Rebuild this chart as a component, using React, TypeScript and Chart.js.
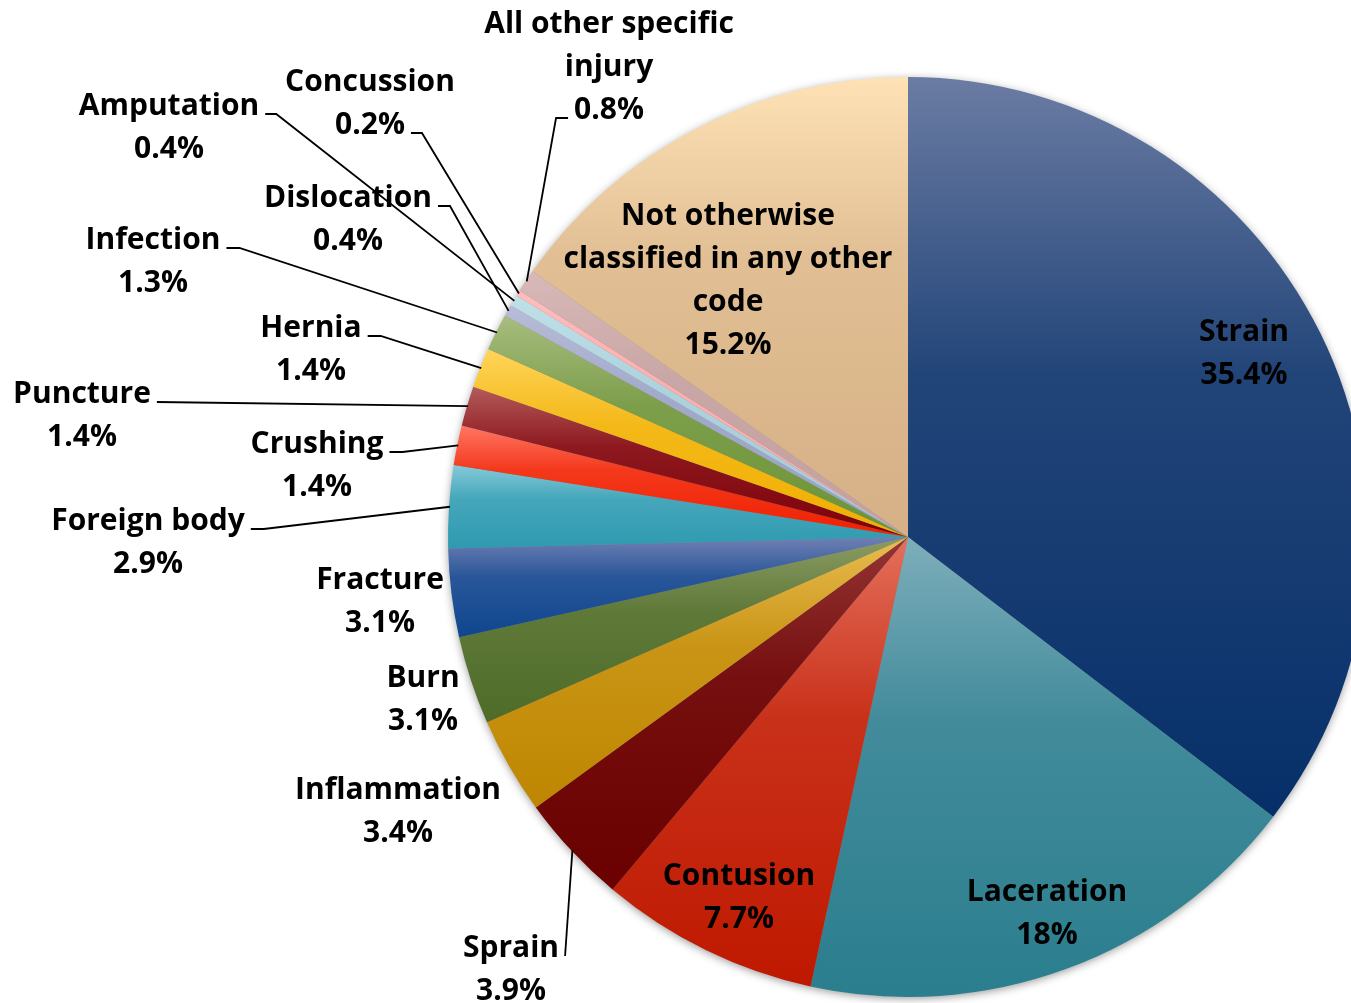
import React, { useEffect, useRef } from "react";
import { Chart, registerables } from "chart.js";

Chart.register(...registerables);

const categories = [
  "Strain",
  "Laceration",
  "Contusion",
  "Sprain",
  "Inflammation",
  "Burn",
  "Fracture",
  "Foreign body",
  "Crushing",
  "Puncture",
  "Hernia",
  "Infection",
  "Dislocation",
  "Amputation",
  "Concussion",
  "All other specific injury",
  "Not otherwise classified in any other code",
];

const values = [35.4, 18, 7.7, 3.9, 3.4, 3.1, 3.1, 2.9, 1.4, 1.4, 1.4, 1.3, 0.4, 0.4, 0.2, 0.8, 15.2];

// how each category name is wrapped in its data label
const labelLines: string[][] = [
  ["Strain"],
  ["Laceration"],
  ["Contusion"],
  ["Sprain"],
  ["Inflammation"],
  ["Burn"],
  ["Fracture"],
  ["Foreign body"],
  ["Crushing"],
  ["Puncture"],
  ["Hernia"],
  ["Infection"],
  ["Dislocation"],
  ["Amputation"],
  ["Concussion"],
  ["All other specific", "injury"],
  ["Not otherwise", "classified in any other", "code"],
];

const lightColors = [
  "#6b7ca3", "#7eaebb", "#e4705c", "#943434", "#e8bc50", "#8c9c64", "#7080b4", "#84cad8",
  "#ff7664", "#b45a5a", "#ffd45a", "#a8bc80", "#b8bcd8", "#c0e0e8", "#ffbcbc", "#d8b8b8", "#fee2b6",
];
const darkColors = [
  "#062f69", "#2a7e8e", "#bf1800", "#6a0000", "#be8600", "#4e6c28", "#0e468e", "#2e9ab0",
  "#f02000", "#7e0008", "#f0ae00", "#6c9436", "#9aa2c4", "#a4ccd8", "#ffa8a8", "#c4a0a0", "#d6b086",
];

// label anchor: [center x, first-line baseline] in canvas pixels
const labelPos: [number, number][] = [
  [1244, 341],
  [1047, 901],
  [739, 885],
  [511, 957],
  [398, 799],
  [423, 687],
  [380, 589],
  [148, 530],
  [317, 453],
  [82, 403],
  [311, 337],
  [153, 249],
  [348, 207],
  [169, 115],
  [370, 91],
  [609, 33],
  [728, 225],
];

// leader lines: side of text, which line they attach to, length of the horizontal stub
type Leader = { side: "left" | "right"; line: number; stub: number } | null;
const leaders: Leader[] = [
  null,
  null,
  null,
  { side: "right", line: 0, stub: 0 },
  null,
  null,
  null,
  { side: "right", line: 0, stub: 13 },
  { side: "right", line: 0, stub: 13 },
  { side: "right", line: 0, stub: 0 },
  { side: "right", line: 0, stub: 13 },
  { side: "right", line: 0, stub: 13 },
  { side: "right", line: 0, stub: 12 },
  { side: "right", line: 0, stub: 11 },
  { side: "right", line: 1, stub: 11 },
  { side: "left", line: 2, stub: 12 },
  null,
];

const FONT = "bold 30px 'Open Sans', 'Noto Sans', sans-serif";
const LINE_H = 43;

function hexToRgb(h: string) {
  const n = parseInt(h.slice(1), 16);
  return [(n >> 16) & 255, (n >> 8) & 255, n & 255];
}
function mix(a: string, b: string, t: number) {
  const A = hexToRgb(a);
  const B = hexToRgb(b);
  const c = A.map((v, i) => Math.round(v + (B[i] - v) * t));
  return `rgb(${c[0]},${c[1]},${c[2]})`;
}

function arcBoundsY(cx: number, cy: number, r: number, s: number, e: number) {
  const ys = [cy, cy + r * Math.sin(s), cy + r * Math.sin(e)];
  const norm = (a: number) => {
    let x = a % (Math.PI * 2);
    if (x < 0) x += Math.PI * 2;
    return x;
  };
  const contains = (ang: number) => {
    const ss = norm(s);
    const d = norm(ang - ss);
    return d <= e - s;
  };
  if (contains(-Math.PI / 2)) ys.push(cy - r);
  if (contains(Math.PI / 2)) ys.push(cy + r);
  return [Math.min(...ys), Math.max(...ys)];
}

const gradientPlugin = {
  id: "sliceGradients",
  beforeDatasetsDraw(chart: any) {
    const meta = chart.getDatasetMeta(0);
    const ctx = chart.ctx;
    const first = meta.data[0];
    if (!first) return;
    // drop shadow behind the whole pie
    ctx.save();
    ctx.shadowColor = "rgba(0,0,0,0.45)";
    ctx.shadowBlur = 10;
    ctx.shadowOffsetY = 2;
    ctx.fillStyle = "#888";
    ctx.beginPath();
    ctx.arc(first.x, first.y, first.outerRadius - 1, 0, Math.PI * 2);
    ctx.fill();
    ctx.restore();
    meta.data.forEach((arc: any, i: number) => {
      const [y0, y1] = arcBoundsY(arc.x, arc.y, arc.outerRadius, arc.startAngle, arc.endAngle);
      const g = ctx.createLinearGradient(0, y0, 0, y1);
      g.addColorStop(0, lightColors[i]);
      g.addColorStop(0.4, mix(lightColors[i], darkColors[i], 0.72));
      g.addColorStop(1, darkColors[i]);
      arc.options = Object.assign({}, arc.options, { backgroundColor: g });
    });
  },
};

const labelPlugin = {
  id: "sliceLabels",
  afterDatasetsDraw(chart: any) {
    const meta = chart.getDatasetMeta(0);
    const ctx = chart.ctx;
    ctx.save();
    ctx.font = FONT;
    ctx.fillStyle = "#000";
    ctx.textAlign = "center";
    ctx.textBaseline = "alphabetic";
    meta.data.forEach((arc: any, i: number) => {
      const lines = [...labelLines[i], `${values[i]}%`];
      const [lx, ly] = labelPos[i];
      const ld = leaders[i];
      if (ld) {
        const txt = lines[ld.line];
        const w = ctx.measureText(txt).width;
        const by = ly + ld.line * LINE_H - 1;
        const sx = ld.side === "right" ? lx + w / 2 + 6 : lx - w / 2 - 6;
        const ex = ld.side === "right" ? sx + ld.stub : sx - ld.stub;
        const mid = (arc.startAngle + arc.endAngle) / 2;
        const r = arc.outerRadius - 1;
        const px = arc.x + r * Math.cos(mid);
        const py = arc.y + r * Math.sin(mid);
        ctx.beginPath();
        ctx.strokeStyle = "#000";
        ctx.lineWidth = 1.8;
        ctx.moveTo(sx, by);
        ctx.lineTo(ex, by);
        ctx.lineTo(px, py);
        ctx.stroke();
      }
      lines.forEach((t, k) => {
        ctx.fillText(t, lx, ly + k * LINE_H);
      });
    });
    ctx.restore();
  },
};

export default function App() {
  const ref = useRef<HTMLCanvasElement | null>(null);
  useEffect(() => {
    if (!ref.current) return;
    const chart = new Chart(ref.current, {
      type: "pie",
      data: {
        labels: categories,
        datasets: [
          {
            data: values,
            backgroundColor: darkColors,
            borderWidth: 0,
          },
        ],
      },
      options: {
        responsive: false,
        animation: false,
        devicePixelRatio: 1,
        layout: { padding: { left: 448, top: 77, right: 32, bottom: 6 } },
        plugins: {
          legend: { display: false },
          tooltip: { enabled: false },
        },
        events: [],
      },
      plugins: [gradientPlugin, labelPlugin],
    });
    return () => chart.destroy();
  }, []);
  return (
    <div
      style={{
        position: "fixed",
        left: 0,
        top: 0,
        width: 1351,
        height: 1003,
        overflow: "hidden",
        background: "#fff",
      }}
    >
      <canvas ref={ref} width={1400} height={1003} style={{ width: 1400, height: 1003, display: "block" }} />
    </div>
  );
}
